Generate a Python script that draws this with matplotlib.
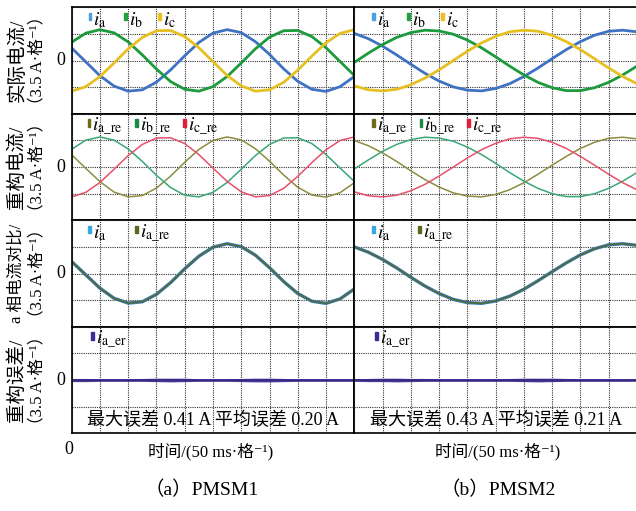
import numpy as np
import matplotlib
matplotlib.use('Agg')
import matplotlib.pyplot as plt
from matplotlib.patches import Rectangle

plt.rcParams['font.family'] = ['Liberation Serif', 'Noto Sans CJK SC', 'DejaVu Sans']
plt.rcParams['mathtext.fontset'] = 'stix'

# time axis in grid divisions (50 ms per division)
t = np.arange(0, 10.01, 0.5)

# ---- PMSM1 (values in divisions, 3.5 A per division) ----
p1_ia = [0.47, -0.05, -0.57, -0.96, -1.15, -1.10, -0.81, -0.35, 0.18, 0.68, 1.03,
         1.16, 1.05, 0.71, 0.23, -0.31, -0.78, -1.08, -1.16, -0.98, -0.60]
p1_ib = [0.69, 1.03, 1.16, 1.04, 0.70, 0.21, -0.32, -0.79, -1.08, -1.15, -0.98,
         -0.60, -0.09, 0.44, 0.88, 1.12, 1.13, 0.90, 0.48, -0.04, -0.56]
p1_ic = [-1.15, -0.98, -0.60, -0.09, 0.44, 0.87, 1.12, 1.13, 0.90, 0.48, -0.04,
         -0.56, -0.95, -1.15, -1.10, -0.82, -0.36, 0.17, 0.67, 1.02, 1.16]
p1_ia_re = [0.46, -0.05, -0.55, -0.94, -1.12, -1.07, -0.79, -0.34, 0.18, 0.66, 1.00,
            1.13, 1.02, 0.69, 0.22, -0.30, -0.76, -1.05, -1.13, -0.96, -0.59]
p1_ib_re = [0.67, 1.01, 1.13, 1.01, 0.68, 0.21, -0.31, -0.77, -1.06, -1.12, -0.95,
            -0.58, -0.08, 0.43, 0.85, 1.09, 1.10, 0.88, 0.47, -0.04, -0.54]
p1_ic_re = [-1.12, -0.95, -0.58, -0.08, 0.43, 0.85, 1.09, 1.10, 0.88, 0.47, -0.04,
            -0.54, -0.93, -1.12, -1.07, -0.80, -0.35, 0.17, 0.65, 1.00, 1.13]
p1_cmp_ia = [0.45, -0.05, -0.55, -0.93, -1.11, -1.06, -0.78, -0.34, 0.18, 0.65, 0.99,
             1.12, 1.01, 0.69, 0.22, -0.30, -0.75, -1.04, -1.12, -0.95, -0.58]
p1_cmp_ia_re = [0.45, -0.05, -0.55, -0.93, -1.11, -1.06, -0.78, -0.34, 0.18, 0.65, 0.99,
                1.12, 1.01, 0.69, 0.22, -0.30, -0.75, -1.04, -1.12, -0.95, -0.58]
p1_er_hi = [0.06, 0.06, 0.05, 0.05, 0.05, 0.06, 0.07, 0.07, 0.07, 0.05, 0.05,
            0.05, 0.06, 0.07, 0.07, 0.06, 0.05, 0.05, 0.05, 0.05, 0.05]
p1_er_lo = [-0.06, -0.06, -0.05, -0.05, -0.05, -0.05, -0.06, -0.07, -0.06, -0.05, -0.05,
            -0.05, -0.06, -0.07, -0.07, -0.06, -0.05, -0.05, -0.05, -0.05, -0.05]

# ---- PMSM2 ----
p2_ia = [1.02, 0.82, 0.54, 0.21, -0.14, -0.48, -0.77, -0.99, -1.11, -1.14, -1.05,
         -0.87, -0.60, -0.28, 0.07, 0.41, 0.71, 0.95, 1.10, 1.14, 1.08]
p2_ib = [-0.07, 0.28, 0.60, 0.87, 1.05, 1.14, 1.11, 0.99, 0.77, 0.48, 0.14,
         -0.21, -0.54, -0.82, -1.02, -1.13, -1.13, -1.02, -0.82, -0.54, -0.21]
p2_ic = [-0.95, -1.10, -1.14, -1.08, -0.91, -0.66, -0.35, 0.00, 0.35, 0.66, 0.91,
         1.08, 1.14, 1.10, 0.95, 0.71, 0.41, 0.07, -0.28, -0.60, -0.87]
p2_ia_re = [1.00, 0.80, 0.53, 0.21, -0.14, -0.47, -0.75, -0.97, -1.09, -1.12, -1.03,
            -0.85, -0.59, -0.27, 0.07, 0.40, 0.70, 0.93, 1.08, 1.12, 1.06]
p2_ib_re = [-0.07, 0.27, 0.59, 0.85, 1.03, 1.12, 1.09, 0.97, 0.75, 0.47, 0.14,
            -0.21, -0.53, -0.80, -1.00, -1.11, -1.11, -1.00, -0.80, -0.53, -0.21]
p2_ic_re = [-0.93, -1.08, -1.12, -1.06, -0.89, -0.65, -0.34, 0.00, 0.34, 0.65, 0.89,
            1.06, 1.12, 1.08, 0.93, 0.70, 0.40, 0.07, -0.27, -0.59, -0.85]
p2_cmp_ia = [1.00, 0.80, 0.53, 0.21, -0.14, -0.47, -0.75, -0.97, -1.09, -1.12, -1.03,
             -0.85, -0.59, -0.27, 0.07, 0.40, 0.70, 0.93, 1.08, 1.12, 1.06]
p2_cmp_ia_re = [1.00, 0.80, 0.53, 0.21, -0.14, -0.47, -0.75, -0.97, -1.09, -1.12, -1.03,
                -0.85, -0.59, -0.27, 0.07, 0.40, 0.70, 0.93, 1.08, 1.12, 1.06]
p2_er_hi = [0.05, 0.06, 0.07, 0.07, 0.06, 0.06, 0.05, 0.05, 0.05, 0.05, 0.05,
            0.06, 0.07, 0.07, 0.07, 0.06, 0.05, 0.05, 0.05, 0.05, 0.05]
p2_er_lo = [-0.05, -0.06, -0.06, -0.07, -0.06, -0.05, -0.05, -0.05, -0.05, -0.05, -0.05,
            -0.05, -0.06, -0.07, -0.06, -0.05, -0.05, -0.05, -0.05, -0.05, -0.05]

err_text = ['最大误差 0.41 A 平均误差 0.20 A', '最大误差 0.43 A 平均误差 0.21 A']
row_labels = [('实际电流/', '（3.5 A·格⁻¹）'),
              ('重构电流/', '（3.5 A·格⁻¹）'),
              ('a 相电流对比/', '（3.5 A·格⁻¹）'),
              ('重构误差/', '（3.5 A·格⁻¹）')]
row_label_size = [14, 14, 12, 14]
captions = ['（a）PMSM1', '（b）PMSM2']

W, H = 636, 511
fig = plt.figure(figsize=(W / 100, H / 100), dpi=100)

col_x = [71.7, 354.3]
col_w = 282.6
row_top = 7.3
row_h = 106.5


def make_ax(r, c):
    left = col_x[c] / W
    bottom = 1 - (row_top + (r + 1) * row_h) / H
    ax = fig.add_axes([left, bottom, col_w / W, row_h / H])
    ax.set_xlim(0, 10)
    ax.set_ylim(-2, 2)
    ax.set_xticks(np.arange(0, 11))
    ax.set_yticks(np.arange(-2, 3))
    ax.grid(True, color='#333333', lw=0.8, ls=(0, (1, 1)))
    ax.tick_params(length=0, labelleft=False, labelbottom=False)
    for s in ax.spines.values():
        s.set_linewidth(1.2)
        s.set_color('black')
    return ax


def legend_item(ax, x, color, label):
    ax.add_patch(Rectangle((x - 0.05, 1.52), 0.1, 0.28, color=color, zorder=5))
    ax.text(x + 0.12, 1.5, label, fontsize=14, va='center', ha='left', zorder=5)


data = [
    (p1_ia, p1_ib, p1_ic, p1_ia_re, p1_ib_re, p1_ic_re, p1_cmp_ia, p1_cmp_ia_re, p1_er_hi, p1_er_lo),
    (p2_ia, p2_ib, p2_ic, p2_ia_re, p2_ib_re, p2_ic_re, p2_cmp_ia, p2_cmp_ia_re, p2_er_hi, p2_er_lo),
]
leg1 = [[0.65, 1.89, 3.10], [0.67, 1.91, 3.11]]
leg2 = [[0.61, 2.30, 3.98], [0.67, 2.36, 4.03]]
leg3 = [[0.64, 2.30], [0.68, 2.32]]
leg4 = [0.73, 0.80]

for c in range(2):
    ia, ib, ic, ia_re, ib_re, ic_re, cia, cia_re, er_hi, er_lo = data[c]

    ax = make_ax(0, c)
    ax.plot(t, ia, color='#3f72c2', lw=2.0)
    ax.plot(t, ib, color='#1c9a3c', lw=2.0)
    ax.plot(t, ic, color='#e6bf22', lw=2.0)
    legend_item(ax, leg1[c][0], '#4a9fe0', r'$i_{\rm a}$')
    legend_item(ax, leg1[c][1], '#20a040', r'$i_{\rm b}$')
    legend_item(ax, leg1[c][2], '#f0c020', r'$i_{\rm c}$')

    ax = make_ax(1, c)
    ax.plot(t, ia_re, color='#8c8c40', lw=1.1)
    ax.plot(t, ib_re, color='#3aa676', lw=1.1)
    ax.plot(t, ic_re, color='#e8506a', lw=1.1)
    legend_item(ax, leg2[c][0], '#6b6b1a', r'$i_{\rm a\_re}$')
    legend_item(ax, leg2[c][1], '#1a8a4a', r'$i_{\rm b\_re}$')
    legend_item(ax, leg2[c][2], '#e0203a', r'$i_{\rm c\_re}$')

    ax = make_ax(2, c)
    ax.plot(t, cia, color='#3b7bb5', lw=2.4)
    ax.plot(t, cia_re, color='#4f6b3c', lw=1.2)
    legend_item(ax, leg3[c][0], '#3aa8e0', r'$i_{\rm a}$')
    legend_item(ax, leg3[c][1], '#5a6a1a', r'$i_{\rm a\_re}$')

    ax = make_ax(3, c)
    ax.fill_between(t, er_lo, er_hi, color='#4a3d9a', lw=0)
    ax.plot(t, np.zeros_like(t), color='#35288a', lw=1.2)
    legend_item(ax, leg4[c], '#3a2a9a', r'$i_{\rm a\_er}$')
    ax.text(5.0, -1.5, err_text[c], fontsize=13, ha='center', va='center')

# row labels and zero marks
for r in range(4):
    yc = 1 - (row_top + (r + 0.5) * row_h) / H
    fig.text(61 / W, yc, '0', fontsize=13, ha='center', va='center')
    fig.text(17 / W, yc, row_labels[r][0], fontsize=row_label_size[r], rotation=90,
             ha='center', va='center')
    fig.text(37 / W, yc, row_labels[r][1], fontsize=12, rotation=90, ha='center', va='center')

fig.text(69 / W, 1 - 449 / H, '0', fontsize=13, ha='center', va='center')
fig.text(211 / W, 1 - 452 / H, '时间/(50 ms·格⁻¹)', fontsize=12, ha='center', va='center')
fig.text(498 / W, 1 - 452 / H, '时间/(50 ms·格⁻¹)', fontsize=12, ha='center', va='center')
fig.text(202 / W, 1 - 490 / H, captions[0], fontsize=14, ha='center', va='center')
fig.text(498 / W, 1 - 490 / H, captions[1], fontsize=14, ha='center', va='center')

fig.savefig('out.png', dpi=100)
